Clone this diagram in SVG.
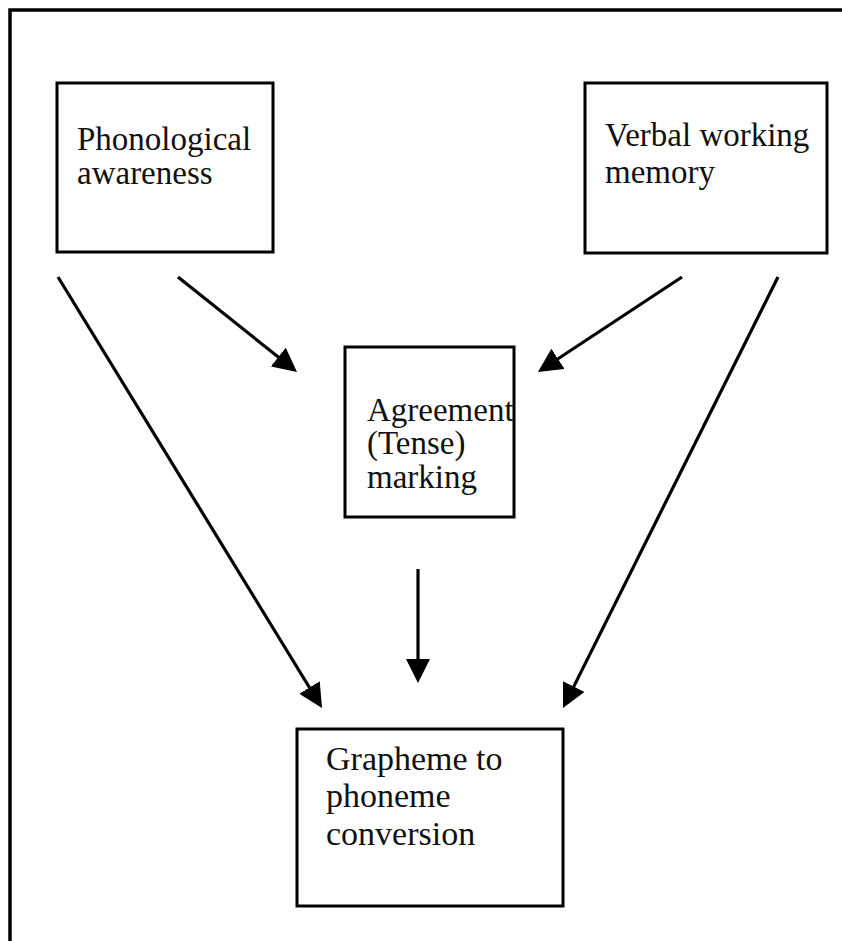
<svg xmlns="http://www.w3.org/2000/svg" width="842" height="941" viewBox="0 0 842 941">
<style>
.box{fill:#fff;stroke:#000;stroke-width:3}
.lbl{font-family:"Liberation Serif","Times New Roman",serif;font-size:33px;fill:#111}
.con{stroke:#000;stroke-width:3.2;fill:none;marker-end:url(#ah)}
</style>
<defs>
<marker id="ah" viewBox="0 0 24 24" refX="14" refY="12" markerWidth="24" markerHeight="24" markerUnits="userSpaceOnUse" orient="auto">
<path d="M0,0 L24,12 L0,24 z" fill="#000"/>
</marker>
</defs>
<rect width="842" height="941" fill="#fff"/>
<rect x="10" y="10" width="900" height="1000" fill="none" stroke="#000" stroke-width="3.5"/>
<g id="phonological">
<rect class="box" x="57" y="83" width="216" height="169"/>
<text class="lbl" x="77" y="150">Phonological</text>
<text class="lbl" x="77" y="184">awareness</text>
</g>
<g id="verbal">
<rect class="box" x="585" y="83" width="242" height="170"/>
<text class="lbl" x="605" y="146">Verbal working</text>
<text class="lbl" x="605" y="183">memory</text>
</g>
<g id="agreement">
<rect class="box" x="345" y="347" width="169" height="170"/>
<text class="lbl" x="367" y="421">Agreement</text>
<text class="lbl" x="367" y="454">(Tense)</text>
<text class="lbl" x="367" y="488">marking</text>
</g>
<g id="grapheme">
<rect class="box" x="297" y="729" width="266" height="177"/>
<text class="lbl" x="326" y="770" style="font-size:34px">Grapheme to</text>
<text class="lbl" x="326" y="807" style="font-size:34px">phoneme</text>
<text class="lbl" x="326" y="845" style="font-size:34px">conversion</text>
</g>
<g id="connectors">
<line class="con" x1="58" y1="277" x2="316.8" y2="699.5"/>
<line class="con" x1="178" y1="277" x2="289.2" y2="365.8"/>
<line class="con" x1="682" y1="277" x2="546.3" y2="366.5"/>
<line class="con" x1="778" y1="277" x2="567.5" y2="699.1"/>
<line class="con" x1="418" y1="569" x2="418" y2="673"/>
</g>
</svg>
